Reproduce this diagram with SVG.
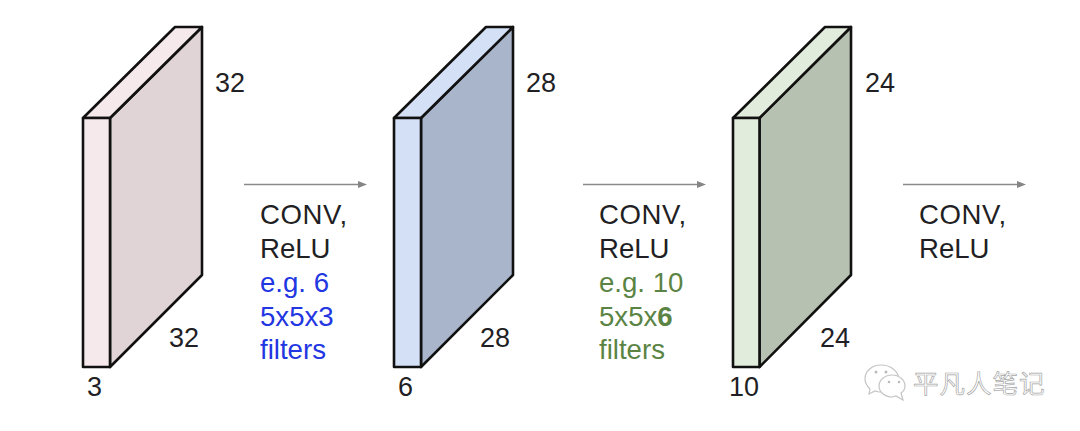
<svg xmlns="http://www.w3.org/2000/svg" width="1080" height="431" viewBox="0 0 1080 431">
<style>
text{font-family:"Liberation Sans",Arial,sans-serif;font-size:27.600px;fill:#1f1f24}
.n{font-size:27px}
.c{letter-spacing:.6px}
.e{stroke:#111;stroke-width:2.600;stroke-linejoin:round}
.a{stroke:#8a8a8a;stroke-width:1.400;fill:none}
.h{fill:#858585}
.blue{fill:#2236e2}
.green{fill:#5b8444}
.wm{font-family:"Noto Sans CJK SC","Noto Sans",sans-serif;font-size:25.500px;fill:#fff;stroke:#a8a8a8;stroke-width:.7;letter-spacing:1px}
.ic{fill:#fff;stroke:#c4c4c4;stroke-width:1.200}
.dot{fill:#bbb}
</style>
<rect width="1080" height="431" fill="#fff"/>
<g id="volume-1">
<path class="e" d="M110 118 202 27V275L110 367Z" fill="#e0d4d6"/>
<path class="e" d="M83 118 175 27H202L110 118Z" fill="#f6e9ec"/>
<rect class="e" x="83" y="118" width="27" height="249" fill="#f6e9ec"/>
<text class="n" x="215" y="92">32</text><text class="n" x="169" y="347">32</text><text class="n" x="87" y="396">3</text>
</g>
<g id="volume-2">
<path class="e" d="M421 118 513 27V275L421 367Z" fill="#a9b5cb"/>
<path class="e" d="M394 118 486 27H513L421 118Z" fill="#d4e0f6"/>
<rect class="e" x="394" y="118" width="27" height="249" fill="#d4e0f6"/>
<text class="n" x="526" y="92">28</text><text class="n" x="480" y="347">28</text><text class="n" x="398" y="396">6</text>
</g>
<g id="volume-3">
<path class="e" d="M759.500 118 851 27V275L759.500 367Z" fill="#b6c1b1"/>
<path class="e" d="M733 118 825 27H851L759.500 118Z" fill="#e2ecdc"/>
<rect class="e" x="733" y="118" width="26.500" height="249" fill="#e2ecdc"/>
<text class="n" x="865" y="92">24</text><text class="n" x="820" y="347">24</text><text class="n" x="729" y="396">10</text>
</g>
<g id="connectors">
<path class="a" d="M244 184.500H360"/><path class="h" d="M358 181 367 184.500 358 188Z"/>
<path class="a" d="M583 184.500H699"/><path class="h" d="M697 181 706 184.500 697 188Z"/>
<path class="a" d="M903 184.500H1019"/><path class="h" d="M1017 181 1026 184.500 1017 188Z"/>
</g>
<g id="label-1">
<text class="c" x="260" y="224">CONV,</text><text x="260" y="258">ReLU</text>
<text class="blue" x="260" y="292">e.g. 6</text><text class="blue" x="260" y="326">5x5x3</text><text class="blue" x="260" y="359">filters</text>
</g>
<g id="label-2">
<text class="c" x="599" y="224">CONV,</text><text x="599" y="258">ReLU</text>
<text class="green" x="599" y="292">e.g. 10</text><text class="green" x="599" y="326">5x5x<tspan font-weight="bold">6</tspan></text><text class="green" x="599" y="359">filters</text>
</g>
<g id="label-3">
<text class="c" x="919" y="224">CONV,</text><text x="919" y="258">ReLU</text>
</g>
<g id="watermark">
<path class="ic" d="M881 365c-9 0-16 6-16 14 0 4 2 7 5 10l-1 5 6-3 4 1c5 0 9-2 12-5l8-9c-2-8-9-13-18-13Z"/>
<path class="ic" d="M892 375c-7 0-13 5-13 11s6 11 13 11l4-1 7 4-2-7c3-2 4-4 4-7 0-6-6-11-13-11Z"/>
<circle class="dot" cx="876" cy="372" r="1.500"/><circle class="dot" cx="886" cy="372" r="1.500"/>
<circle class="dot" cx="889" cy="382" r="1.300"/><circle class="dot" cx="899" cy="382" r="1.300"/>
<text class="wm" x="913" y="393">平凡人笔记</text>
</g>
</svg>
